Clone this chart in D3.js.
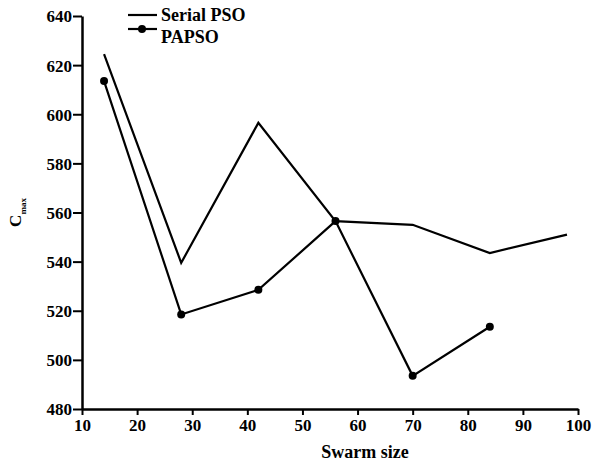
<!DOCTYPE html>
<html>
<head>
<meta charset="utf-8">
<script src="https://cdn.jsdelivr.net/npm/d3@7"></script>
<style>
  body { margin: 0; background: #fff; }
  text { font-family: "Liberation Serif", "Times New Roman", serif; fill: #000; }
</style>
</head>
<body>
<div id="chart"></div>
<script>
// swarm sizes and Cmax values
const swarmSerial = [14, 28, 42, 56, 70, 84, 98];
const cmaxSerial = [624.5, 539.5, 596.5, 556.5, 555, 543.5, 551];
const swarmPapso = [14, 28, 42, 56, 70, 84];
const cmaxPapso = [613.5, 518.5, 528.5, 556.5, 493.5, 513.5];
const xTicks = [10, 20, 30, 40, 50, 60, 70, 80, 90, 100];
const yTicks = [480, 500, 520, 540, 560, 580, 600, 620, 640];

const W = 593, H = 465;
const margin = { top: 16, right: 15, bottom: 56, left: 82 };

const svg = d3.select('#chart').append('svg')
  .attr('width', W)
  .attr('height', H);

const x = d3.scaleLinear().domain([10, 100]).range([margin.left, W - margin.right]);
const y = d3.scaleLinear().domain([480, 640]).range([H - margin.bottom, margin.top]);

// axes
const xAxis = svg.append('g')
  .attr('transform', `translate(0,${H - margin.bottom})`)
  .call(d3.axisBottom(x).tickValues(xTicks).tickSize(6).tickPadding(4).tickSizeOuter(0));
const yAxis = svg.append('g')
  .attr('transform', `translate(${margin.left},0)`)
  .call(d3.axisLeft(y).tickValues(yTicks).tickSize(9).tickPadding(1).tickSizeOuter(0));

[xAxis, yAxis].forEach(g => {
  g.select('.domain').attr('stroke', '#000').attr('stroke-width', 2.5);
  g.selectAll('.tick line').attr('stroke', '#000').attr('stroke-width', 2);
  g.selectAll('.tick text')
    .style('font-family', '"Liberation Serif", serif')
    .style('font-size', '17px')
    .style('font-weight', 'bold')
    .attr('fill', '#000');
});
yAxis.selectAll('.tick text').attr('dy', '0.35em');

// axis titles
svg.append('text')
  .attr('x', 365)
  .attr('y', 458)
  .attr('text-anchor', 'middle')
  .style('font-size', '18px')
  .style('font-weight', 'bold')
  .text('Swarm size');

const yl = svg.append('text')
  .attr('transform', `translate(21,${y(560)}) rotate(-90)`)
  .attr('text-anchor', 'middle')
  .style('font-size', '17px')
  .style('font-weight', 'bold');
yl.append('tspan').text('C');
yl.append('tspan').attr('dy', 5).style('font-size', '9px').text('max');

const line = d3.line().x(d => x(d[0])).y(d => y(d[1]));
const serial = swarmSerial.map((s, i) => [s, cmaxSerial[i]]);
const papso = swarmPapso.map((s, i) => [s, cmaxPapso[i]]);

svg.append('path').datum(serial)
  .attr('fill', 'none').attr('stroke', '#000').attr('stroke-width', 2.2)
  .attr('d', line);
svg.append('path').datum(papso)
  .attr('fill', 'none').attr('stroke', '#000').attr('stroke-width', 2.2)
  .attr('d', line);
svg.selectAll('circle.pt').data(papso).enter().append('circle')
  .attr('class', 'pt')
  .attr('cx', d => x(d[0]))
  .attr('cy', d => y(d[1]))
  .attr('r', 4)
  .attr('fill', '#000');

// legend
const legend = svg.append('g');
const items = [
  { label: 'Serial PSO', marker: false, lineY: 15, textY: 21 },
  { label: 'PAPSO', marker: true, lineY: 29, textY: 43 }
];
items.forEach(it => {
  legend.append('line')
    .attr('x1', 128).attr('x2', 157)
    .attr('y1', it.lineY).attr('y2', it.lineY)
    .attr('stroke', '#000').attr('stroke-width', 2.2);
  if (it.marker) {
    legend.append('circle').attr('cx', 142).attr('cy', it.lineY).attr('r', 4).attr('fill', '#000');
  }
  legend.append('text')
    .attr('x', 161).attr('y', it.textY)
    .style('font-size', '18px')
    .style('font-weight', 'bold')
    .text(it.label);
});
</script>
</body>
</html>
